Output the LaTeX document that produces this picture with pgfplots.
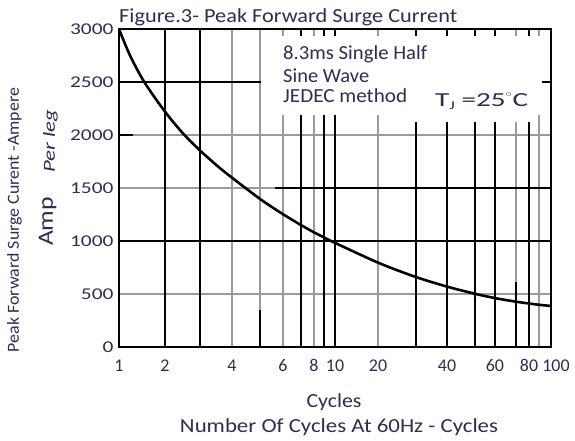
\documentclass[border=0pt]{standalone}
\usepackage{pgfplots}
\pgfplotsset{compat=1.18}
\usepackage{pgfplotstable}
\usepackage{graphicx}
\usepackage{fontspec}
\setmainfont{Carlito}
\definecolor{txt}{RGB}{45,45,85}
\definecolor{gridgray}{RGB}{155,155,155}
\newcommand\ys[1]{\scalebox{1.3}[1]{#1}}

\pgfplotstableread{
x      y
1.000  3000
1.122  2755
1.309  2500
1.633  2220
1.986  2011
2.399  1845
2.884  1700
3.381  1588
4.539  1391
5.662  1261
6.934  1152
8.072  1077
8.892  1034
9.886  987
16.03  791
23.71  660
33.11  569
44.46  502
55.08  461
68.08  429
78.52  411
88.31  398
100    387
}\surge

\begin{document}
\begin{tikzpicture}[x=1bp,y=1bp]
\useasboundingbox (-119,-94) rectangle (456,347);
\begin{axis}[
  at={(0,0)}, anchor=south west,
  scale only axis, width=432bp, height=318bp,
  xmode=log, xmin=1, xmax=100, ymin=0, ymax=3000,
  axis line style={line width=1.6bp},
  major tick length=0, minor tick length=0,
  xtick={1,1.633,3.335,5.746,7.996,10,15.82,33.0,55.0,79.1,100},
  xticklabels={1,2,4,6,8,10,20,40,60,80,\hspace*{10bp}\raisebox{3bp}{100}},
  xticklabel style={font=\fontsize{18}{18}\selectfont, text=txt, yshift=-9bp},
  ytick={0,500,1000,1500,2000,2500,3000},
  yticklabels={\ys{0},\ys{500},\ys{1000},\ys{1500},\ys{2000},\ys{2500},\ys{3000}},
  yticklabel style={font=\fontsize{16.5}{16.5}\selectfont, text=txt, xshift=-2bp},
  minor xtick={3.335,4.496,5.746,7.996,15.82,68.9,88.0},
  minor ytick={500,1500,2000},
  xminorgrids=true, yminorgrids=true,
  minor grid style={gridgray, line width=1.6bp},
  extra x ticks={1.633,2.371,6.963,8.894,10,23.71,33.0,44.5,55.0,79.1},
  extra x tick labels={},
  extra x tick style={grid=major, major grid style={black, line width=1.3bp}},
  extra y ticks={1000,2500},
  extra y tick labels={},
  extra y tick style={grid=major, major grid style={black, line width=1.3bp}},
]
\draw[black, line width=1.3bp] (axis cs:5.28,1500) -- (axis cs:100,1500);
\draw[black, line width=1.3bp] (axis cs:1,2000) -- (axis cs:1.16,2000);
\draw[black, line width=1.3bp] (axis cs:4.496,0) -- (axis cs:4.496,350);
\draw[black, line width=1.3bp] (axis cs:68.9,0) -- (axis cs:68.9,613);
\addplot[black, line width=2.6bp, smooth, tension=0.5] table[x=x,y=y] {\surge};
\end{axis}
% text box
\fill[white] (142,232) rectangle (423,311);
\fill[white] (281,225) rectangle (414,311);
\begin{scope}[text=txt]
\node[anchor=base west, inner sep=0] at (164,287) {\fontsize{20}{20}\selectfont\resizebox{144bp}{\height}{8.3ms Single Half}};
\node[anchor=base west, inner sep=0] at (164,264) {\fontsize{20}{20}\selectfont\resizebox{86bp}{\height}{Sine Wave}};
\node[anchor=base west, inner sep=0] at (164,244) {\fontsize{20}{20}\selectfont\resizebox{124bp}{\height}{JEDEC method}};
\node[anchor=base west, inner sep=0] at (316,240) {\fontsize{20}{20}\selectfont\resizebox{93bp}{\height}{T\raisebox{-3bp}{\fontsize{12}{12}\selectfont J} =25\raisebox{7bp}{\fontsize{11}{11}\selectfont$^\circ$}C}};
% title
\node[anchor=base west, inner sep=0] at (0,324.3) {\fontsize{20}{20}\selectfont\resizebox{338bp}{\height}{Figure.3- Peak Forward Surge Current}};
% x labels
\node[anchor=base, inner sep=0] at (215,-61) {\fontsize{20}{20}\selectfont\resizebox{55bp}{\height}{Cycles}};
\node[anchor=base, inner sep=0] at (220,-86) {\fontsize{20}{20}\selectfont\resizebox{318bp}{\height}{Number Of Cycles At 60Hz - Cycles}};
% y labels
\node[anchor=base, inner sep=0, rotate=90] at (-100,127) {\fontsize{17}{17}\selectfont\resizebox{264bp}{\height}{Peak Forward Surge Curent -Ampere}};
\node[anchor=base, inner sep=0, rotate=90] at (-66,125.5) {\fontsize{22}{22}\selectfont\resizebox{49bp}{\height}{Amp}};
\node[anchor=base, inner sep=0, rotate=90] at (-64,205.5) {\fontsize{17}{17}\selectfont\itshape\resizebox{63bp}{\height}{Per leg}};
\end{scope}
\end{tikzpicture}
\end{document}
